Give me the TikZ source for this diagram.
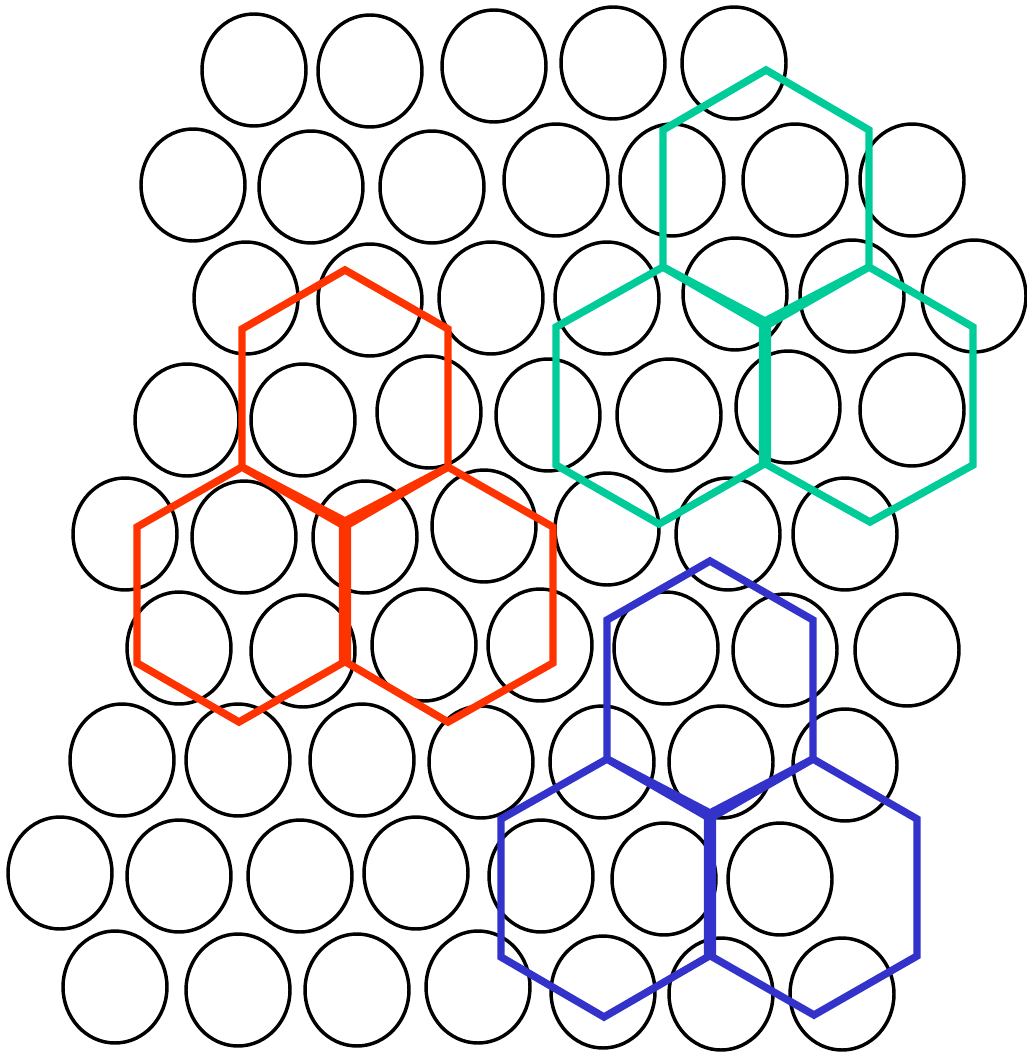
\documentclass[tikz,border=0pt]{standalone}
\definecolor{hexorange}{HTML}{FF3300}
\definecolor{hexgreen}{HTML}{00CC99}
\definecolor{hexblue}{HTML}{3333CC}
\begin{document}
\begin{tikzpicture}[x=0.75pt,y=-0.75pt,
  cell/.style={draw=black,line width=2.6pt},
  hexline/.style={line width=5.6pt,line join=miter}]
\useasboundingbox (0,0) rectangle (1026,1053);
% circles
\foreach \cx/\cy in {
 254/70, 370/71, 494/66, 613/63, 734/63,
 193/185, 311/187, 432/187, 556/180, 672/180, 795/180, 912/180,
 246/298, 370/300, 491/298, 607/298, 735/294, 852/296, 974/296,
 187/420, 303/420, 429/412, 548/415, 669/415, 788/407, 912/410,
 125/534, 244/537, 365/537, 484/526, 607/529, 728/534, 845/534,
 179/648, 303/651, 424/645, 540/645, 666/648, 785/650, 907/650,
 122/760, 238/760, 362/760, 481/762, 602/762, 721/762, 845/765,
 60/873, 179/876, 300/876, 416/873, 541/876, 664/879, 780/879,
 115/987, 238/990, 357/990, 478/987, 603/992, 721/994, 842/994}
 \draw[cell] (\cx,\cy) ellipse [x radius=52, y radius=56];
% orange group
\begin{scope}[hexline,draw=hexorange]
 \draw (345,270) -- (448,329) -- (448,467) -- (345,521) -- (242,467) -- (242,329) -- cycle;
 \draw (242,467) -- (342.5,525) -- (342.5,663) -- (239,722) -- (137,663) -- (137,527) -- cycle;
 \draw (448,467) -- (553,527) -- (553,663) -- (448,722) -- (347.5,663) -- (347.5,525) -- cycle;
\end{scope}
% green group
\begin{scope}[hexline,draw=hexgreen]
 \draw (766,70) -- (869,130) -- (869,267) -- (765,321) -- (663,267) -- (663,130) -- cycle;
 \draw (663,267) -- (762.5,325) -- (762.5,465) -- (659,524) -- (556,465) -- (556,327) -- cycle;
 \draw (869,267) -- (973,327) -- (973,465) -- (870,522) -- (767.5,465) -- (767.5,325) -- cycle;
\end{scope}
% blue group
\begin{scope}[hexline,draw=hexblue]
 \draw (710,561) -- (813,620) -- (813,759) -- (710,813) -- (607,759) -- (607,620) -- cycle;
 \draw (607,759) -- (707.5,817) -- (707.5,957) -- (604,1017) -- (501,957) -- (501,819) -- cycle;
 \draw (813,759) -- (917,819) -- (917,956) -- (814,1015) -- (712.5,957) -- (712.5,817) -- cycle;
\end{scope}
\end{tikzpicture}
\end{document}
